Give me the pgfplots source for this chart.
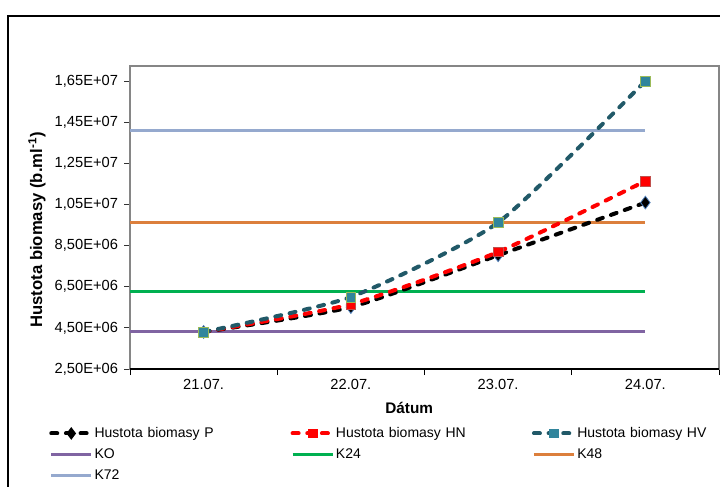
\documentclass[border=0pt]{standalone}
\usepackage{pgfplots}
\pgfplotsset{compat=1.18}
\usepackage{fontspec}
\setmainfont{Liberation Sans}
\definecolor{cP}{HTML}{000000}
\definecolor{cPedge}{HTML}{4F81BD}
\definecolor{cHN}{HTML}{FF0000}
\definecolor{cHNedge}{HTML}{C0504D}
\definecolor{cHV}{HTML}{215968}
\definecolor{cHVfill}{HTML}{31859C}
\definecolor{cHVedge}{HTML}{9BBB59}
\definecolor{cKO}{HTML}{8064A2}
\definecolor{cK24}{HTML}{00B050}
\definecolor{cK48}{HTML}{DC7F3C}
\definecolor{cK72}{HTML}{95A9CE}
\definecolor{frame}{HTML}{868686}
\begin{document}
\begin{tikzpicture}
\useasboundingbox (0,0) rectangle (540pt,364.5pt);
\draw[black, line width=0.9pt] (6pt,-5pt) -- (6pt,352.5pt) -- (560pt,352.5pt);
\begin{axis}[
  scale only axis,
  width=441.75pt, height=227.25pt,
  at={(97.5pt,87.75pt)}, anchor=south west,
  xmin=-0.5, xmax=3.5,
  ymin=2.5e6, ymax=1.723e7,
  scaled y ticks=false,
  axis line style={frame, line width=0.8pt},
  tick align=outside,
  major tick length=4.5pt,
  xtick pos=bottom, ytick pos=left,
  xtick={-0.5,0.5,1.5,2.5,3.5},
  xticklabels={},
  xtick style={black, line width=0.6pt},
  extra x ticks={0,1,2,3},
  extra x tick labels={21.07.,22.07.,23.07.,24.07.},
  extra x tick style={tick style={draw=none}},
  ytick={2.5e6,4.5e6,6.5e6,8.5e6,10.5e6,12.5e6,14.5e6,16.5e6},
  yticklabels={{2,50E+06},{4,50E+06},{6,50E+06},{8,50E+06},{1,05E+07},{1,25E+07},{1,45E+07},{1,65E+07}},
  ytick style={black!80, line width=0.6pt},
  yticklabel style={xshift=-1pt},
  tick label style={font=\fontsize{11}{13}\selectfont},
  xlabel={Dátum},
  xlabel style={at={(axis description cs:0.474,0)}, anchor=center, yshift=-29.25pt, font=\bfseries\fontsize{11.5}{13}\selectfont},
  ylabel={Hustota biomasy (b.ml\textsuperscript{-1})},
  ylabel style={at={(axis description cs:-0.158,0.459)}, anchor=center, font=\bfseries\fontsize{12.5}{14}\selectfont},
  legend columns=3,
  legend cell align=left,
  legend image code/.code={
    \draw[#1, mark=none] (0pt,0pt) -- (30pt,0pt);
    \draw[#1, draw opacity=0, solid] plot coordinates {(15pt,0pt)};
  },
  legend style={draw=none, fill=none, at={(-0.1443,-0.1683)}, anchor=north west,
    font=\fontsize{10.5}{12}\selectfont,
    nodes={inner sep=1pt, text width=146pt, minimum height=15.75pt, align=left},
    column sep=0pt, row sep=0pt},
]
% reference lines (drawn behind)
\addplot[forget plot, cKO, line width=2.2pt] coordinates {(-0.5,4.34e6) (3,4.34e6)};
\addplot[forget plot, cK24, line width=2.2pt] coordinates {(-0.5,6.29e6) (3,6.29e6)};
\addplot[forget plot, cK48, line width=2.2pt] coordinates {(-0.5,9.62e6) (3,9.62e6)};
\addplot[forget plot, cK72, line width=2.2pt] coordinates {(-0.5,1.409e7) (3,1.409e7)};
% data
\addplot[cP, line width=3pt, line cap=round, dash pattern=on 4.5pt off 6.5pt, smooth, tension=0.35,
  mark=diamond*, mark size=4.8pt, mark options={solid, fill=black, draw=cPedge, line width=0.6pt}]
  coordinates {(0,4.30e6) (1,5.51e6) (2,8.03e6) (3,1.059e7)};
\addlegendentry{Hustota biomasy P}
\addplot[cHN, line width=3pt, line cap=round, dash pattern=on 4.5pt off 6.5pt, smooth, tension=0.35,
  mark=square*, mark size=3.7pt, mark options={solid, fill=cHN, draw=cHNedge, line width=0.6pt}]
  coordinates {(0,4.30e6) (1,5.65e6) (2,8.19e6) (3,1.164e7)};
\addlegendentry{Hustota biomasy HN}
\addplot[cHV, line width=3pt, line cap=round, dash pattern=on 4.5pt off 6.5pt, smooth, tension=0.35,
  mark=square*, mark size=3.7pt, mark options={solid, fill=cHVfill, draw=cHVedge, line width=0.6pt}]
  coordinates {(0,4.30e6) (1,6.00e6) (2,9.62e6) (3,1.65e7)};
\addlegendentry{Hustota biomasy HV}
\addlegendimage{cKO, line width=1.6pt}
\addlegendentry{KO}
\addlegendimage{cK24, line width=1.6pt}
\addlegendentry{K24}
\addlegendimage{cK48, line width=1.6pt}
\addlegendentry{K48}
\addlegendimage{cK72, line width=1.6pt}
\addlegendentry{K72}
\draw[black, line width=0.8pt] (rel axis cs:0,0) -- (rel axis cs:1,0);
\end{axis}
\end{tikzpicture}
\end{document}
